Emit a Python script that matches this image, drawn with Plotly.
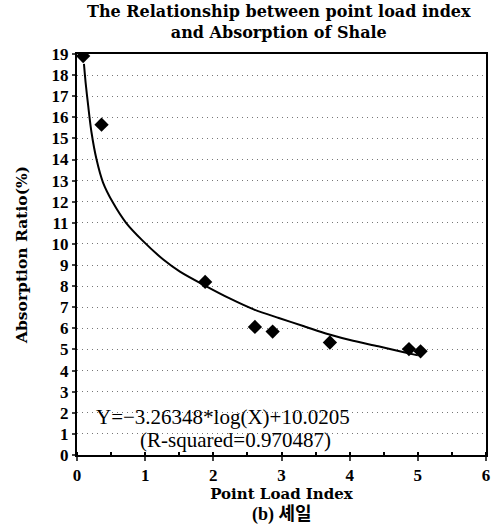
import plotly.graph_objects as go

# measured points (point load index vs absorption ratio)
pli = [0.09, 0.36, 1.88, 2.61, 2.87, 3.71, 4.87, 5.04]
absorption = [18.9, 15.65, 8.2, 6.07, 5.85, 5.33, 5.02, 4.91]

# fitted curve
fit_x = [0.102, 0.126, 0.164, 0.213, 0.286, 0.382, 0.527, 0.72, 0.955,
         1.27, 1.51, 1.87, 2.24, 2.60, 2.96, 3.33, 3.69, 4.05, 4.42, 4.78, 5.0]
fit_y = [18.53, 17.66, 16.55, 15.28, 14.01, 12.91, 11.96, 11.0, 10.18,
         9.25, 8.69, 8.04, 7.42, 6.89, 6.49, 6.10, 5.72, 5.41, 5.15, 4.88, 4.72]

x_ticks = [0, 1, 2, 3, 4, 5, 6]
y_ticks = list(range(0, 20))

serif = "Liberation Serif, DejaVu Serif, serif"
wide = "DejaVu Serif, serif"
mixed = "Liberation Serif, Noto Sans CJK KR, serif"

fig = go.Figure()
fig.add_trace(go.Scatter(x=fit_x, y=fit_y, mode='lines',
                         line=dict(color='black', width=2, shape='spline', smoothing=0.8),
                         showlegend=False))
fig.add_trace(go.Scatter(x=pli, y=absorption, mode='markers',
                         marker=dict(symbol='diamond', size=11, color='black'), showlegend=False))

fig.add_annotation(x=2.14, y=1.8, text="Y=−3.26348*log(X)+10.0205", showarrow=False,
                   font=dict(family=serif, size=21, color='black'))
fig.add_annotation(x=2.33, y=0.72, text="(R-squared=0.970487)", showarrow=False,
                   font=dict(family=serif, size=21, color='black'))
fig.add_annotation(x=0.5, y=-0.148, xref='paper', yref='paper', text="<b>(b) 셰일</b>", showarrow=False,
                   yanchor='middle', font=dict(family=mixed, size=18, color='black'))
fig.add_annotation(x=0.495, y=1.0, xref='paper', yref='paper', xanchor='center', yanchor='bottom',
                   yshift=10, showarrow=False,
                   text="<b>The Relationship between point load index</b><br><b>and Absorption of Shale</b>",
                   font=dict(family=wide, size=16, color='black'))

fig.update_xaxes(range=[0, 6], tickvals=x_ticks, ticks='outside', ticklen=4, tickwidth=1.5,
                 showgrid=False, zeroline=False, showline=True, linecolor='black', linewidth=2,
                 mirror=True, minor=dict(dtick=0.5, ticks='inside', ticklen=3, tickcolor='black'),
                 tickfont=dict(family=serif, size=17, color='black', weight='bold'),
                 title=dict(text="<b>Point Load Index</b>", font=dict(family=wide, size=15, color='black'), standoff=3))
fig.update_yaxes(range=[0, 19], tickvals=y_ticks, ticks='outside', ticklen=3, tickwidth=1.5,
                 showgrid=True, gridcolor='#777', griddash='1px,4px', gridwidth=1, zeroline=False,
                 showline=True, linecolor='black', linewidth=2, mirror=True,
                 tickfont=dict(family=serif, size=17, color='black', weight='bold'),
                 title=dict(text="<b>Absorption Ratio(%)</b>", font=dict(family=wide, size=15.5, color='black'), standoff=20))
fig.update_layout(width=500, height=528, plot_bgcolor='white', paper_bgcolor='white',
                  margin=dict(l=77, r=10, t=54, b=73))
fig.write_html("out.html", config={'displayModeBar': False},
               post_script="document.body.style.margin='0';")
